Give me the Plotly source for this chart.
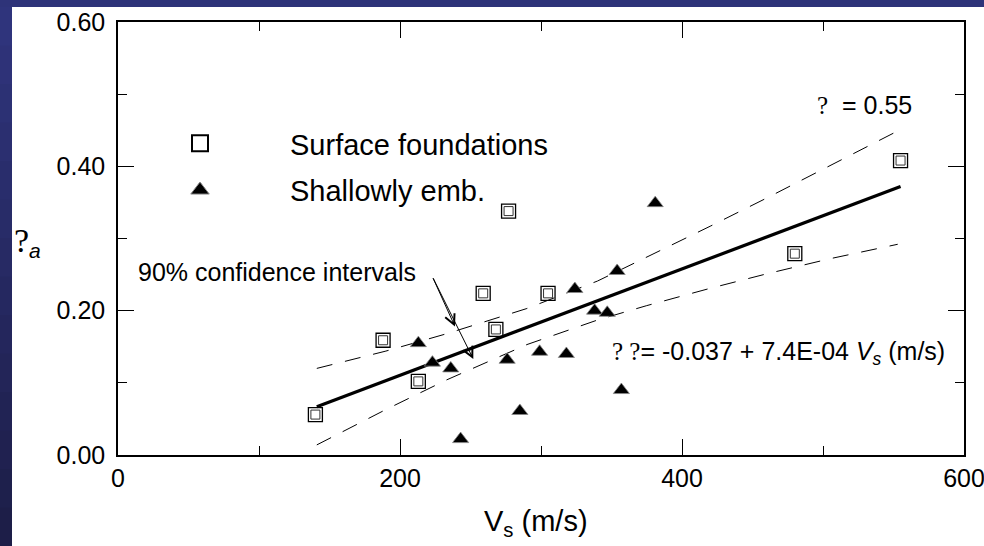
import plotly.graph_objects as go

# ---- data ----
surf_vs = [140, 188, 213, 259, 268, 277, 305, 480, 555]
surf_rho = [0.056, 0.159, 0.102, 0.224, 0.174, 0.338, 0.224, 0.279, 0.408]

emb_vs = [213, 223, 236, 243, 276, 285, 299, 318, 324, 338, 347, 354, 357, 381]
emb_rho = [0.155, 0.128, 0.120, 0.022, 0.132, 0.061, 0.143, 0.140, 0.230, 0.200, 0.197, 0.255, 0.090, 0.349]

fit_vs = [141, 555]
fit_rho = [0.067, 0.372]

band_vs = [141, 190, 233, 290, 340, 375, 420, 460, 505, 553]
band_upper = [0.120, 0.144, 0.168, 0.203, 0.241, 0.274, 0.317, 0.356, 0.401, 0.449]
band_lower = [0.014, 0.063, 0.104, 0.153, 0.187, 0.207, 0.231, 0.251, 0.272, 0.292]

x_ticks = [0, 200, 400, 600]
y_ticks = [0.0, 0.2, 0.4, 0.6]

FONT = "Liberation Sans, Arial, sans-serif"
SERIF = "Liberation Serif, Times New Roman, serif"

fig = go.Figure()

# confidence bands
fig.add_trace(go.Scatter(x=band_vs, y=band_upper, mode="lines", showlegend=False,
                         line=dict(color="black", width=1, dash="16px,13px")))
fig.add_trace(go.Scatter(x=band_vs, y=band_lower, mode="lines", showlegend=False,
                         line=dict(color="black", width=1, dash="16px,13px")))
# regression line
fig.add_trace(go.Scatter(x=fit_vs, y=fit_rho, mode="lines", showlegend=False,
                         line=dict(color="black", width=3.2)))

# surface foundations: double-bordered open squares
fig.add_trace(go.Scatter(x=surf_vs, y=surf_rho, mode="markers", showlegend=False,
                         marker=dict(symbol="square-open", size=14, color="black",
                                     line=dict(width=1.3, color="black"))))
fig.add_trace(go.Scatter(x=surf_vs, y=surf_rho, mode="markers", showlegend=False,
                         marker=dict(symbol="square-open", size=9, color="#333",
                                     line=dict(width=1, color="#333"))))
# shallowly embedded: filled triangles
fig.add_trace(go.Scatter(x=emb_vs, y=emb_rho, mode="markers", showlegend=False,
                         marker=dict(symbol="triangle-up", size=14, color="black",
                                     line=dict(width=0.8, color="#888"))))

# legend-only entries
fig.add_trace(go.Scatter(x=[None], y=[None], mode="markers", name="Surface foundations",
                         legendgroup="a",
                         marker=dict(symbol="square-open", size=20, color="black",
                                     line=dict(width=2, color="black"))))
fig.add_trace(go.Scatter(x=[None], y=[None], mode="markers", name="Shallowly emb.",
                         legendgroup="b",
                         marker=dict(symbol="triangle-up", size=22, color="black",
                                     line=dict(width=1, color="#888"))))

axis_common = dict(
    showline=True, linecolor="black", linewidth=1.5, mirror="ticks",
    ticks="inside", ticklen=16, tickwidth=1.2, tickcolor="black",
    showgrid=False, zeroline=False, automargin=False, ticklabeloverflow="allow",
    tickfont=dict(family=FONT, size=25, color="black"),
)

fig.update_xaxes(range=[0, 600], tickvals=x_ticks, ticklabelstandoff=0,
                 minor=dict(dtick=100, ticks="inside", ticklen=9, tickwidth=1.2,
                            tickcolor="black", showgrid=False),
                 **axis_common)
fig.update_yaxes(range=[0, 0.6], tickvals=y_ticks, tickformat=".2f", ticklabelstandoff=6,
                 minor=dict(dtick=0.1, ticks="inside", ticklen=9, tickwidth=1.2,
                            tickcolor="black", showgrid=False),
                 **axis_common)

# blue slide frame (top strip + left gradient strip)
W, H = 984, 546
L, R, T, B = 118, 20, 22, 91
pw, ph = W - L - R, H - T - B

def px(xp):
    return (xp - L) / pw

def py(yp):
    return (H - B - yp) / ph

shapes = [dict(type="rect", xref="paper", yref="paper", x0=px(-2), x1=px(W + 5),
               y0=py(7), y1=py(-5), fillcolor="#2e3379", line=dict(width=0), layer="above")]
n = 14
c0 = (47, 52, 124)
c1 = (29, 30, 72)
for i in range(n):
    t = i / (n - 1)
    col = "rgb(%d,%d,%d)" % tuple(round(a + (b - a) * t) for a, b in zip(c0, c1))
    y_top = 7 + (H - 7) * i / n
    y_bot = 7 + (H - 7) * (i + 1) / n
    shapes.append(dict(type="rect", xref="paper", yref="paper", x0=px(-2), x1=px(12),
                       y0=py(y_bot + 1), y1=py(y_top), fillcolor=col,
                       line=dict(width=0), layer="above"))

annotations = [
    dict(xref="paper", yref="paper", x=px(136), y=py(272), xanchor="left", yanchor="middle",
         text="90% confidence intervals", showarrow=False,
         font=dict(family=FONT, size=25, color="black")),
    dict(xref="paper", yref="paper", x=px(610), y=py(353), xanchor="left", yanchor="middle",
         text='<span style="font-family:%s">? ?</span>= -0.037 + 7.4E-04 <i>V</i><sub><i>s</i></sub> (m/s)' % SERIF,
         showarrow=False, font=dict(family=FONT, size=25, color="black")),
    dict(xref="paper", yref="paper", x=px(914), y=py(105), xanchor="right", yanchor="middle",
         text='<span style="font-family:%s">?</span>  = 0.55' % SERIF,
         showarrow=False, font=dict(family=FONT, size=25, color="black")),
    dict(xref="paper", yref="paper", x=px(536), y=py(523), xanchor="center", yanchor="middle",
         text="V<sub>s</sub> (m/s)", showarrow=False,
         font=dict(family=FONT, size=29, color="black")),
    dict(xref="paper", yref="paper", x=px(12), y=py(242), xanchor="left", yanchor="middle",
         text='<span style="font-family:%s;font-size:34px">?</span><sub><i>a</i></sub>' % SERIF,
         showarrow=False, font=dict(family=FONT, size=30, color="black")),
    # arrows from the label to the bands
    dict(xref="x", yref="y", axref="x", ayref="y", x=239, y=0.178, ax=223, ay=0.247,
         text="", showarrow=True, arrowhead=5, arrowsize=2, arrowwidth=1, arrowcolor="black"),
    dict(xref="x", yref="y", axref="x", ayref="y", x=252, y=0.133, ax=223, ay=0.247,
         text="", showarrow=True, arrowhead=5, arrowsize=2, arrowwidth=1, arrowcolor="black"),
]

fig.update_layout(
    width=W, height=H,
    margin=dict(l=L, r=R, t=T, b=B, autoexpand=False),
    paper_bgcolor="white", plot_bgcolor="white",
    font=dict(family=FONT, size=25, color="black"),
    showlegend=True,
    legend=dict(x=px(110), y=py(118), xanchor="left", yanchor="top",
                bgcolor="rgba(0,0,0,0)", itemwidth=170, tracegroupgap=6,
                font=dict(family=FONT, size=29, color="black")),
    shapes=shapes,
    annotations=annotations,
)

fig.write_html("out.html", config={"displayModeBar": False},
               post_script="document.body.style.margin='0';document.body.style.overflow='hidden';")
